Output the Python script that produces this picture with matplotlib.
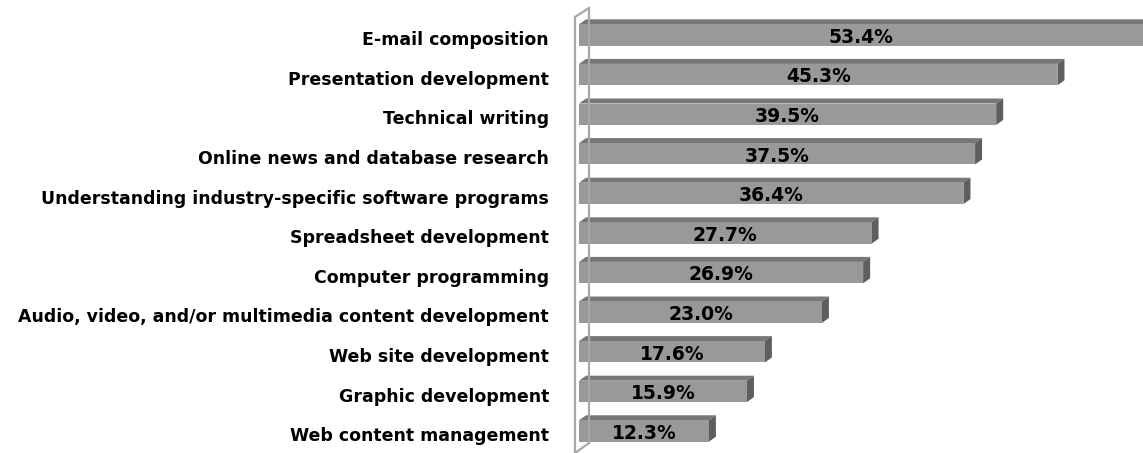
import matplotlib.pyplot as plt
from matplotlib.patches import Polygon
from matplotlib.lines import Line2D
import numpy as np

categories = [
    'E-mail composition',
    'Presentation development',
    'Technical writing',
    'Online news and database research',
    'Understanding industry-specific software programs',
    'Spreadsheet development',
    'Computer programming',
    'Audio, video, and/or multimedia content development',
    'Web site development',
    'Graphic development',
    'Web content management',
]
values = [53.4, 45.3, 39.5, 37.5, 36.4, 27.7, 26.9, 23.0, 17.6, 15.9, 12.3]

W, H = 1143, 453
fig = plt.figure(figsize=(W / 100, H / 100), dpi=100)

# axes placed in pixels
ax_left_px, ax_right_px = 579, 1143
ax = fig.add_axes([ax_left_px / W, 0, (ax_right_px - ax_left_px) / W, 1])
ax.set_xlim(0, 53.4)
ax.set_ylim(10.556, -0.884)
ax.axis('off')

# pixel -> data conversion for the 3D offsets
px_x = 53.4 / (ax_right_px - ax_left_px)
px_y = (10.556 + 0.884) / H
depth_x = 7 * px_x
depth_y = 5 * px_y

front = '#999999'
top = '#777777'
side = '#5e5e5e'
h = 0.54

y = np.arange(len(categories))
for yi, v in zip(y, values):
    y0, y1 = yi - h / 2, yi + h / 2
    # top face
    ax.add_patch(Polygon([(0, y0), (v, y0), (v + depth_x, y0 - depth_y), (depth_x, y0 - depth_y)],
                         closed=True, facecolor=top, edgecolor='none', zorder=2, clip_on=False))
    # side face
    ax.add_patch(Polygon([(v, y0), (v + depth_x, y0 - depth_y), (v + depth_x, y1 - depth_y), (v, y1)],
                         closed=True, facecolor=side, edgecolor='none', zorder=2, clip_on=False))
    ax.barh(yi, v, height=h, color=front, edgecolor='none', zorder=3)
    ax.text(v / 2, yi + 0.06, f'{v:.1f}%', ha='center', va='center',
            fontsize=13.5, fontweight='bold', color='black', zorder=4)
    ax.text(-30 * px_x, yi + 0.13, categories[yi], ha='right', va='center',
            fontsize=12.5, fontweight='bold', color='black', clip_on=False)

# back wall outline (light grey)
wall = '#a8a8a8'
for seg in [[(575, H + 2), (575, 17)], [(575, 17), (589, 8)], [(589, 8), (589, 443)],
            [(575, H), (589, 443)]]:
    xs = [p[0] / W for p in seg]
    ys = [1 - p[1] / H for p in seg]
    fig.add_artist(Line2D(xs, ys, color=wall, lw=1.6, zorder=1))

fig.savefig('out.png', dpi=100)
